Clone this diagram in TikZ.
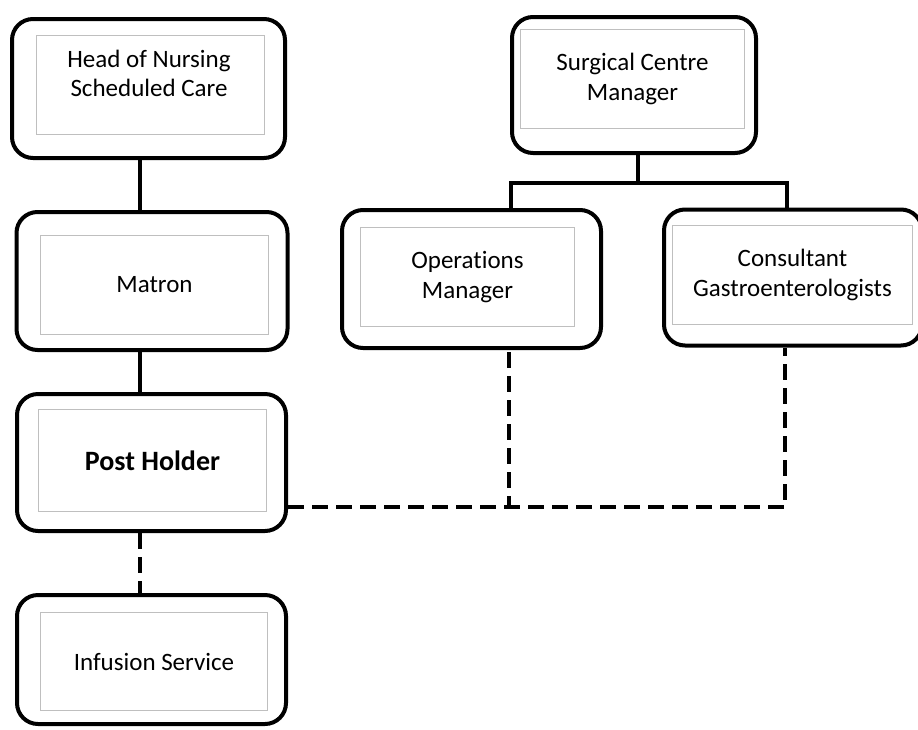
\documentclass[tikz,border=0pt]{standalone}
\usepackage{fontspec}
\setmainfont{Carlito}[Ligatures=NoCommon]
\usetikzlibrary{positioning, calc}

\begin{document}
\begin{tikzpicture}[x=1pt,y=-1pt,
                    link/.style={line width=4pt},
                    dash link/.style={line width=4pt,dash pattern=on 16pt off 8pt},
                    post/.style={draw,line width=4pt,rounded corners=21pt,inner sep=0pt},
                    caption/.style={align=center,font=\fontsize{25}{29.5}\selectfont},
                    frame/.style={caption,draw=black!25,line width=1.5pt,inner sep=0pt}]

  \useasboundingbox (0,0) rectangle (918,729);
  \clip (0,0) rectangle (918,729);

  % outer boxes
  \node[post,minimum width=273pt,minimum height=139pt] (hns) at (148.5,88.5) {};
  \node[post,minimum width=271pt,minimum height=138pt] (matron) at (152,281) {};
  \node[post,minimum width=269pt,minimum height=137pt] (post) at (151.5,462.5) {};
  \node[post,minimum width=269pt,minimum height=129pt] (inf) at (151.5,659.5) {};
  \node[post,minimum width=244pt,minimum height=136pt] (scm) at (634,85) {};
  \node[post,minimum width=259pt,minimum height=138pt] (ops) at (471.5,279) {};
  \node[post,minimum width=258pt,minimum height=136pt] (cons) at (793,277.5) {};

  % inner frames
  \node[frame,minimum width=228pt,minimum height=99pt] (hnsf) at (150.5,85) {};
  \node[caption] (hnst) at (149,73.5) {Head of Nursing\\Scheduled Care};
  \node[frame,minimum width=228pt,minimum height=99pt] (matronf) at (154.5,285) {Matron};
  \node[frame,minimum width=228pt,minimum height=102pt,font=\bfseries\fontsize{28}{34}\selectfont] (postf) at (152.5,460.5) {Post Holder};
  \node[frame,minimum width=227pt,minimum height=98pt] (inff) at (154,661.5) {Infusion Service};
  \node[frame,minimum width=224pt,minimum height=99pt] (scmf) at (632.5,79) {Surgical Centre\\Manager};
  \node[frame,minimum width=214pt,minimum height=99pt] (opsf) at (467.5,277) {Operations\\Manager};
  \node[frame,minimum width=240pt,minimum height=99pt] (consf) at (792.5,275) {Consultant\\Gastroenterologists};

  % lines
  \coordinate (stem) at (140,0);
  \coordinate (split) at (638,183);
  \draw[link] (hns.south -| stem) -- (matron.north -| stem);
  \draw[link] (matron.south -| stem) -- (post.north -| stem);
  \draw[dash link] (post.south -| stem) -- (inf.north -| stem);
  \draw[link] (scm.south -| split) -- (split);
  \draw[link] ([xshift=39.5pt]ops.north) |- (split) -| ([xshift=-6pt]cons.north);
  \draw[dash link] ([yshift=-44pt]post.east) -| ([xshift=37.5pt]ops.south);
  \draw[dash link] ([yshift=-44pt]post.east) -| ([xshift=-8pt]cons.south);

\end{tikzpicture}
\end{document}
